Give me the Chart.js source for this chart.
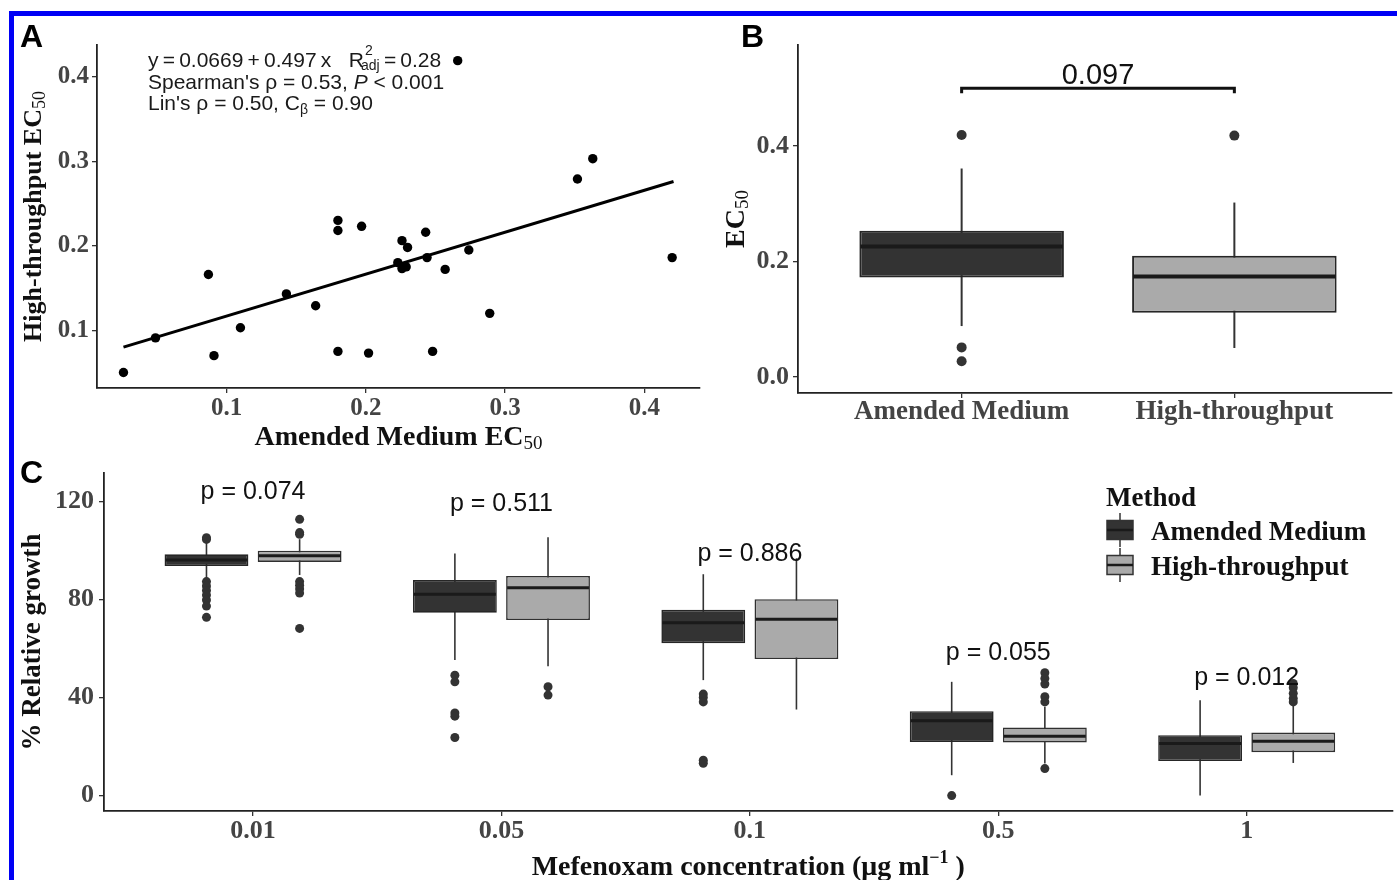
<!DOCTYPE html>
<html>
<head>
<meta charset="utf-8">
<script src="https://cdn.jsdelivr.net/npm/chart.js@4.4.1/dist/chart.umd.min.js"></script>
<style>
html, body { margin: 0; padding: 0; background: #fff; }
#page { position: relative; width: 1397px; height: 880px; overflow: hidden; background: #fff; }
#frame { position: absolute; left: 9px; top: 11px; width: 1600px; height: 1000px;
         border-top: 5px solid #0000f5; border-left: 5px solid #0000f5; }
canvas { position: absolute; }
</style>
</head>
<body>
<div id="page">
  <div id="frame"></div>
  <canvas id="chartA" width="720" height="460" style="left:0px;top:0px"></canvas>
  <canvas id="chartB" width="697" height="460" style="left:700px;top:0px"></canvas>
  <canvas id="chartC" width="1397" height="440" style="left:0px;top:440px"></canvas>
</div>
<script>
// ---------- panel A : EC50 agreement ----------
const aAmended = [0.026, 0.049, 0.087, 0.091, 0.110, 0.143, 0.164, 0.180, 0.180, 0.180, 0.197, 0.202, 0.223, 0.226,
                  0.226, 0.230, 0.229, 0.243, 0.244, 0.248, 0.257, 0.274, 0.289, 0.352, 0.363, 0.420, 0.266];
const aHighThroughput = [0.050, 0.091, 0.166, 0.070, 0.103, 0.143, 0.129, 0.230, 0.218, 0.075, 0.223, 0.073, 0.180, 0.206,
                         0.173, 0.198, 0.175, 0.216, 0.186, 0.075, 0.172, 0.195, 0.120, 0.279, 0.303, 0.186, 0.419];
const aFitX = [0.026, 0.421];
const aFitY = [0.080, 0.276];
const aTicks = [0.1, 0.2, 0.3, 0.4];

// ---------- panel B : EC50 by method ----------
const methods = ['Amended Medium', 'High-throughput'];
const bQ1 = [0.172, 0.111];
const bMedian = [0.226, 0.174];
const bQ3 = [0.253, 0.210];
const bLow = [0.088, 0.050];
const bHigh = [0.361, 0.302];
const bOutliers = [[0.419, 0.051, 0.027], [0.418]];
const bTicks = [0.0, 0.2, 0.4];
const bPValue = '0.097';
const bBracketY = 0.50;

// ---------- panel C : relative growth ----------
const concentrations = ['0.01', '0.05', '0.1', '0.5', '1'];
const amQ1 = [93.7, 74.6, 62.1, 21.9, 14.1];
const amMedian = [96.1, 82.1, 70.5, 30.5, 21.2];
const amQ3 = [98.4, 87.9, 75.8, 34.4, 24.6];
const amLow = [88.6, 55.3, 47.1, 8.3, 0.0];
const amHigh = [103.0, 98.8, 90.3, 46.4, 38.9];
const amOutliers = [[105.2, 104.5, 87.3, 85.5, 83.7, 81.8, 79.8, 77.3, 72.7],
                    [49.1, 46.4, 33.7, 32.4, 23.7],
                    [41.4, 40.0, 38.2, 14.4, 13.2],
                    [0.0],
                    []];
const htQ1 = [95.3, 71.6, 55.7, 21.6, 17.7];
const htMedian = [97.8, 84.8, 71.9, 24.2, 22.2];
const htQ3 = [99.9, 89.6, 80.1, 27.8, 25.7];
const htLow = [90.0, 52.8, 35.1, 13.1, 13.3];
const htHigh = [104.6, 105.4, 96.8, 36.2, 36.9];
const htOutliers = [[112.7, 107.3, 106.6, 87.3, 85.8, 84.3, 82.6, 68.2],
                    [44.4, 41.0],
                    [],
                    [50.1, 47.8, 45.5, 40.3, 38.2, 11.0],
                    [45.7, 44.0, 41.7, 39.6, 38.2]];
const pValues = ['0.074', '0.511', '0.886', '0.055', '0.012'];
const pLabelY = [121.1, 115.9, 95.5, 55.3, 45.1];
const cTicks = [0, 40, 80, 120];

// ---------- styles ----------
const SERIF = '"Liberation Serif", "Times New Roman", serif';
const SANS = '"Liberation Sans", Arial, sans-serif';
const INK = '#333333';
const DARK = '#333333';
const LIGHT = '#aaaaaa';
const TICK_COLOR = '#444444';

Chart.defaults.font.family = SERIF;

function font(size, weight, family, style) {
  return (style || '') + ' ' + (weight || 'normal') + ' ' + size + 'px ' + family;
}

// draw a run of text pieces (for sub/superscripts)
function rich(ctx, parts, x, y, align) {
  let total = 0;
  parts.forEach(p => {
    ctx.font = p.font;
    p.w = ctx.measureText(p.t).width;
    p.a = p.adv !== undefined ? p.adv : p.w + (p.dx || 0);
    total += p.a;
  });
  let cx = align === 'center' ? x - total / 2 : x;
  parts.forEach(p => {
    ctx.font = p.font;
    ctx.fillText(p.t, cx + (p.dx || 0), y + (p.dy || 0));
    cx += p.a;
  });
}

function axisStyle(min, max, tickValues, labelFn, size, pad, fitSize, horizontal) {
  return {
    type: 'linear', min: min, max: max, offset: false,
    afterBuildTicks: s => { s.ticks = tickValues.map(v => ({ value: v })); },
    afterFit: s => { if (horizontal) s.height = fitSize; else s.width = fitSize; },
    ticks: { callback: labelFn, color: TICK_COLOR, padding: pad, maxRotation: 0, autoSkip: false,
             font: { family: SERIF, weight: 'bold', size: size, lineHeight: 1 } },
    grid: { display: true, drawOnChartArea: false, drawTicks: true, tickLength: 5, offset: false,
            color: INK, lineWidth: 1.3 },
    border: { display: true, color: '#222', width: 1.8 }
  };
}

function boxParts(sets, whiskerWidth, medianWidth) {
  return {
    id: 'boxParts',
    beforeDatasetsDraw(chart) {
      const ctx = chart.ctx, ys = chart.scales.y;
      ctx.save();
      ctx.strokeStyle = INK;
      ctx.lineWidth = whiskerWidth;
      sets.forEach(s => {
        chart.getDatasetMeta(s.index).data.forEach((bar, j) => {
          ctx.beginPath();
          ctx.moveTo(bar.x, ys.getPixelForValue(s.low[j]));
          ctx.lineTo(bar.x, ys.getPixelForValue(s.high[j]));
          ctx.stroke();
        });
      });
      ctx.restore();
    },
    afterDatasetsDraw(chart) {
      const ctx = chart.ctx, ys = chart.scales.y;
      ctx.save();
      ctx.strokeStyle = '#1a1a1a';
      ctx.lineWidth = medianWidth;
      sets.forEach(s => {
        chart.getDatasetMeta(s.index).data.forEach((bar, j) => {
          const y = ys.getPixelForValue(s.median[j]);
          ctx.beginPath();
          ctx.moveTo(bar.x - bar.width / 2 + 1, y);
          ctx.lineTo(bar.x + bar.width / 2 - 1, y);
          ctx.stroke();
        });
      });
      ctx.restore();
    }
  };
}

const common = {
  responsive: false, animation: false, events: [],
  plugins: { legend: { display: false }, tooltip: { enabled: false } }
};

// ================= Panel A =================
new Chart(document.getElementById('chartA'), {
  type: 'scatter',
  data: {
    datasets: [
      { type: 'line', data: aFitX.map((x, i) => ({ x: x, y: aFitY[i] })), borderColor: '#000',
        borderWidth: 3, pointRadius: 0, fill: false },
      { data: aAmended.map((x, i) => ({ x: x, y: aHighThroughput[i] })), backgroundColor: '#000',
        borderColor: '#000', borderWidth: 0, pointRadius: 4.7 }
    ]
  },
  options: Object.assign({}, common, {
    layout: { padding: { top: 45, right: 20, left: 0, bottom: 0 } },
    scales: {
      x: axisStyle(0.007, 0.440, aTicks, v => v.toFixed(1), 25, 3, 72, true),
      y: axisStyle(0.0317, 0.4375, aTicks, v => v.toFixed(1), 25, 3, 97, false)
    }
  }),
  plugins: [{
    id: 'textA',
    afterDraw(chart) {
      const ctx = chart.ctx, ca = chart.chartArea;
      ctx.save();
      ctx.fillStyle = '#000';
      ctx.textBaseline = 'alphabetic';
      ctx.font = font(32, 'bold', SANS);
      ctx.fillText('A', 20, 47);
      // equation block
      ctx.fillStyle = '#1a1a1a';
      const s = font(21, 'normal', SANS), sm = font(14, 'normal', SANS);
      const x0 = ca.left + 51;
      const th = '\u2009';
      rich(ctx, [{ t: 'y' + th + '=' + th + '0.0669' + th + '+' + th + '0.497' + th + 'x   R', font: s },
                 { t: '2', font: sm, dx: 1, dy: -12, adv: 0 },
                 { t: 'adj', font: sm, dx: -3, dy: 3 },
                 { t: th + '=' + th + '0.28', font: s }], x0, 67, 'left');
      rich(ctx, [{ t: "Spearman's \u03c1 = 0.53, ", font: s },
                 { t: 'P', font: font(21, 'normal', SANS, 'italic') },
                 { t: ' < 0.001', font: s }], x0, 89, 'left');
      rich(ctx, [{ t: "Lin's \u03c1 = 0.50, C", font: s },
                 { t: '\u03b2', font: font(14, 'normal', SANS), dy: 4 },
                 { t: ' = 0.90', font: s }], x0, 110, 'left');
      // axis titles
      ctx.fillStyle = '#111';
      const tb = font(28, 'bold', SERIF), ts = font(19, 'normal', SERIF);
      rich(ctx, [{ t: 'Amended Medium EC', font: tb }, { t: '50', font: ts, dy: 4 }],
           (ca.left + ca.right) / 2, ca.bottom + 57, 'center');
      const tv = font(26, 'bold', SERIF), tvs = font(18, 'normal', SERIF);
      ctx.translate(ca.left - 56, (ca.top + ca.bottom) / 2);
      ctx.rotate(-Math.PI / 2);
      rich(ctx, [{ t: 'High-throughput EC', font: tv }, { t: '50', font: tvs, dy: 4 }], 0, 0, 'center');
      ctx.restore();
    }
  }]
});

// ================= Panel B =================
const bSets = [{ index: 0, low: bLow, high: bHigh, median: bMedian }];
const bOutlierPts = [];
bOutliers.forEach((vals, i) => vals.forEach(v => bOutlierPts.push({ x: i + 1, y: v })));

new Chart(document.getElementById('chartB'), {
  type: 'bar',
  data: {
    datasets: [
      { data: methods.map((m, i) => ({ x: i + 1, y: [bQ1[i], bQ3[i]] })),
        backgroundColor: [DARK, LIGHT], borderColor: '#262626', borderWidth: 2, borderSkipped: false,
        categoryPercentage: 1, barPercentage: 0.75 },
      { type: 'scatter', data: bOutlierPts, backgroundColor: INK, borderWidth: 0, pointRadius: 5 }
    ]
  },
  options: Object.assign({}, common, {
    layout: { padding: { top: 45, right: 0, left: 0, bottom: 0 } },
    scales: {
      x: axisStyle(0.4, 2.578, [1, 2], v => methods[v - 1], 27, 1, 67, true),
      y: axisStyle(-0.028, 0.575, bTicks, v => v.toFixed(1), 26, 4, 98, false)
    }
  }),
  plugins: [boxParts(bSets, 2, 4), {
    id: 'textB',
    afterDraw(chart) {
      const ctx = chart.ctx, ca = chart.chartArea, xs = chart.scales.x, ys = chart.scales.y;
      ctx.save();
      ctx.fillStyle = '#000';
      ctx.font = font(32, 'bold', SANS);
      ctx.fillText('B', 41, 47);
      // significance bracket
      const x1 = xs.getPixelForValue(1), x2 = xs.getPixelForValue(2), yb = ys.getPixelForValue(bBracketY);
      ctx.strokeStyle = '#111';
      ctx.lineWidth = 3;
      ctx.beginPath();
      ctx.moveTo(x1, yb + 5); ctx.lineTo(x1, yb); ctx.lineTo(x2, yb); ctx.lineTo(x2, yb + 5);
      ctx.stroke();
      ctx.fillStyle = '#111';
      ctx.font = font(29, 'normal', SANS);
      ctx.textAlign = 'center';
      ctx.fillText(bPValue, (x1 + x2) / 2, yb - 4);
      ctx.textAlign = 'left';
      // axis title
      const tb = font(28, 'bold', SERIF), ts = font(19, 'normal', SERIF);
      ctx.translate(ca.left - 54, (ca.top + ca.bottom) / 2);
      ctx.rotate(-Math.PI / 2);
      rich(ctx, [{ t: 'EC', font: tb }, { t: '50', font: ts, dy: 4 }], 0, 0, 'center');
      ctx.restore();
    }
  }]
});

// ================= Panel C =================
const dodge = 0.1875;
const groupX = concentrations.map((c, i) => i + 1);
function boxData(q1, q3) { return groupX.map((x, i) => ({ x: x, y: [q1[i], q3[i]] })); }
function outlierData(groups, shift) {
  const pts = [];
  groups.forEach((vals, i) => vals.forEach(v => pts.push({ x: groupX[i] + shift, y: v })));
  return pts;
}
const cSets = [
  { index: 0, low: amLow, high: amHigh, median: amMedian },
  { index: 1, low: htLow, high: htHigh, median: htMedian }
];

function legendKey(ctx, cx, cy, fill) {
  ctx.strokeStyle = INK;
  ctx.lineWidth = 1.5;
  ctx.beginPath(); ctx.moveTo(cx, cy - 17); ctx.lineTo(cx, cy + 17); ctx.stroke();
  ctx.fillStyle = fill;
  ctx.fillRect(cx - 13, cy - 9.5, 26, 19);
  ctx.strokeRect(cx - 13, cy - 9.5, 26, 19);
  ctx.strokeStyle = '#1a1a1a';
  ctx.lineWidth = 2.5;
  ctx.beginPath(); ctx.moveTo(cx - 13, cy); ctx.lineTo(cx + 13, cy); ctx.stroke();
}

new Chart(document.getElementById('chartC'), {
  type: 'bar',
  data: {
    datasets: [
      { label: methods[0], data: boxData(amQ1, amQ3), backgroundColor: DARK, borderColor: '#262626',
        borderWidth: 1.6, borderSkipped: false, categoryPercentage: 0.75, barPercentage: 0.9 },
      { label: methods[1], data: boxData(htQ1, htQ3), backgroundColor: LIGHT, borderColor: '#303030',
        borderWidth: 1.6, borderSkipped: false, categoryPercentage: 0.75, barPercentage: 0.9 },
      { type: 'scatter', data: outlierData(amOutliers, -dodge), backgroundColor: INK, borderWidth: 0, pointRadius: 4.5 },
      { type: 'scatter', data: outlierData(htOutliers, dodge), backgroundColor: INK, borderWidth: 0, pointRadius: 4.5 }
    ]
  },
  options: Object.assign({}, common, {
    layout: { padding: { top: 33, right: 0, left: 0, bottom: 0 } },
    scales: {
      x: axisStyle(0.4, 5.587, groupX, v => concentrations[v - 1], 26, 2.5, 69, true),
      y: axisStyle(-6.3, 131.6, cTicks, v => String(v), 26, 5, 104, false)
    }
  }),
  plugins: [boxParts(cSets, 1.6, 3), {
    id: 'textC',
    afterDraw(chart) {
      const ctx = chart.ctx, ca = chart.chartArea, xs = chart.scales.x, ys = chart.scales.y;
      ctx.save();
      ctx.fillStyle = '#000';
      ctx.font = font(32, 'bold', SANS);
      ctx.fillText('C', 20, 43);
      // p-values
      ctx.fillStyle = '#111';
      ctx.font = font(25, 'normal', SANS);
      ctx.textAlign = 'center';
      pValues.forEach((p, i) => ctx.fillText('p = ' + p, xs.getPixelForValue(groupX[i]), ys.getPixelForValue(pLabelY[i])));
      ctx.textAlign = 'left';
      // legend
      ctx.fillStyle = '#111';
      ctx.font = font(27, 'bold', SERIF);
      ctx.fillText('Method', 1106, 66);
      [DARK, LIGHT].forEach((fill, i) => {
        legendKey(ctx, 1120, 90 + i * 35, fill);
        ctx.fillStyle = '#111';
        ctx.font = font(27, 'bold', SERIF);
        ctx.fillText(methods[i], 1151, 100 + i * 35);
      });
      // axis titles
      const tb = font(28, 'bold', SERIF), ts = font(18, 'bold', SERIF);
      rich(ctx, [{ t: 'Mefenoxam concentration (\u03bcg ml', font: tb },
                 { t: '\u22121', font: ts, dy: -12 },
                 { t: ' )', font: tb }], (ca.left + ca.right) / 2, ca.bottom + 64, 'center');
      ctx.translate(ca.left - 64, (ca.top + ca.bottom) / 2);
      ctx.rotate(-Math.PI / 2);
      rich(ctx, [{ t: '% Relative growth', font: font(27, 'bold', SERIF) }], 0, 0, 'center');
      ctx.restore();
    }
  }]
});
</script>
</body>
</html>
